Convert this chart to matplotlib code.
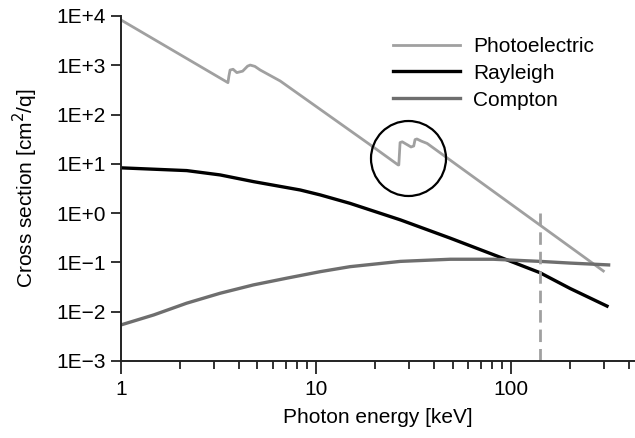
import matplotlib
matplotlib.use('Agg')
import matplotlib.pyplot as plt
from matplotlib.ticker import FixedLocator, FixedFormatter, LogLocator, NullFormatter, NullLocator

plt.rcParams['font.family'] = ['Liberation Sans', 'DejaVu Sans']
plt.rcParams['font.size'] = 15

# photoelectric cross section (with Cd/Te L and K edges)
pe_energy = [1.0, 3.53, 3.57, 3.62, 3.75, 3.92, 4.2, 4.45, 4.59, 4.85, 5.16, 6.54,
             19.6, 26.3, 26.5, 26.9, 27.6, 29.5, 30.6, 31.6, 32.1, 32.8, 34.5, 37.0, 296.0]
pe_value = [8300, 444, 600, 800, 830, 710, 760, 960, 1010, 950, 803, 480,
            22, 9.5, 9.5, 27, 28, 24, 22, 23, 31, 32, 29, 26, 0.067]

# Rayleigh (coherent) scattering
ray_energy = [1.0, 2.17, 3.22, 4.77, 8.28, 10.5, 14.9, 27.0, 48.7, 87.8, 140.0, 200.0, 309.0]
ray_value = [8.3, 7.3, 5.96, 4.36, 2.95, 2.34, 1.58, 0.73, 0.31, 0.127, 0.062, 0.0296, 0.013]

# Compton (incoherent) scattering
com_energy = [1.0, 1.47, 2.17, 3.22, 4.77, 7.08, 10.5, 14.9, 27.0, 48.7, 80.8, 140.0, 200.0, 315.0]
com_value = [0.0054, 0.0086, 0.0149, 0.0237, 0.035, 0.048, 0.065, 0.082, 0.105, 0.116, 0.116,
             0.105, 0.097, 0.089]

tc99m_energy = 140.0          # dashed marker line
edge_circle = (29.6, 13.2)    # circle round the K edges

tick_vals = [1e4, 1e3, 1e2, 1e1, 1e0, 1e-1, 1e-2, 1e-3]
tick_labels = ['1E+4', '1E+3', '1E+2', '1E+1', '1E+0', '1E\u22121', '1E\u22122', '1E\u22123']

fig = plt.figure(figsize=(6.35, 4.38), dpi=100)
ax = fig.add_axes([0.1906, 0.1758, 0.8094, 0.7877])

ax.plot(pe_energy, pe_value, color='#a0a0a0', lw=2.0, label='Photoelectric')
ax.plot(ray_energy, ray_value, color='black', lw=2.4, label='Rayleigh')
ax.plot(com_energy, com_value, color='#6e6e6e', lw=2.4, label='Compton')

ax.plot([tc99m_energy, tc99m_energy], [1e-3, 1.0], color='#a0a0a0', lw=2.0,
        ls=(0, (4.5, 2.5)))
ax.plot([edge_circle[0]], [edge_circle[1]], marker='o', ms=54, mfc='none',
        mec='black', mew=1.6)

ax.set_xscale('log')
ax.set_yscale('log')
ax.set_xlim(1, 430)
ax.set_ylim(1e-3, 1e4)

ax.yaxis.set_major_locator(FixedLocator(tick_vals))
ax.yaxis.set_major_formatter(FixedFormatter(tick_labels))
ax.yaxis.set_minor_locator(NullLocator())
ax.xaxis.set_major_locator(FixedLocator([1, 10, 100]))
ax.xaxis.set_major_formatter(FixedFormatter(['1', '10', '100']))
ax.xaxis.set_minor_locator(LogLocator(base=10, subs=range(2, 10), numticks=20))
ax.xaxis.set_minor_formatter(NullFormatter())

ax.tick_params(axis='both', which='major', direction='out', length=7, width=1.3,
               color='#222222', labelsize=15, pad=4)
ax.tick_params(axis='x', which='major', length=9, pad=5)
ax.tick_params(axis='x', which='minor', direction='out', length=6, width=1.3,
               color='#222222')

for side in ['top', 'right']:
    ax.spines[side].set_visible(False)
for side in ['left', 'bottom']:
    ax.spines[side].set_linewidth(1.4)
    ax.spines[side].set_color('#222222')

ax.set_xlabel('Photon energy [keV]', fontsize=15, labelpad=6)
ax.set_ylabel('Cross section [cm$^2$/q]', fontsize=15, labelpad=12)

ax.legend(loc='upper left', bbox_to_anchor=(0.492, 0.994), frameon=False,
          handlelength=3.25, handletextpad=0.6, labelspacing=0.38, fontsize=15)

fig.savefig('out.png', dpi=100)
